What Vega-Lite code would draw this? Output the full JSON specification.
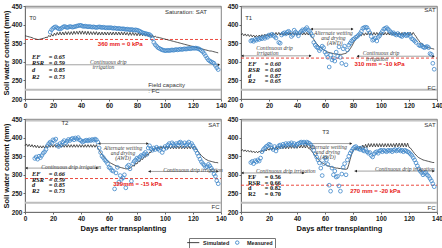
{
"$schema":"https://vega.github.io/schema/vega-lite/v6.json",
"padding":{"left":1,"top":2,"right":1,"bottom":0},
"bounds":"flush",
"columns":2,
"spacing":{"row":20,"column":20},
"datasets":{
"ann":[
{"p":"T0","k":"g","x":0,"x2":140,"y":445},
{"p":"T0","k":"g","x":0,"x2":138,"y":292},
{"p":"T0","k":"f","x":0,"x2":140,"y":225},
{"p":"T0","k":"r","x":0,"x2":140,"y":360},
{"p":"T0","k":"h","x":138.5,"y":292,"t":"triangle-right"},
{"p":"T0","k":"t","x":3,"y":418,"t":"T0"},
{"p":"T0","k":"t","x":100,"y":435,"t":"Saturation: SAT"},
{"p":"T0","k":"t","x":88,"y":238,"t":"Field capacity"},
{"p":"T0","k":"t","x":88,"y":221,"t":": FC"},
{"p":"T0","k":"red","x":52,"y":347,"t":"360 mm = 0 kPa"},
{"p":"T0","k":"i","x":59.5,"y":299,"t":"Continuous drip"},
{"p":"T0","k":"i","x":56,"y":286,"t":"irrigation"},
{"p":"T0","k":"s","x":5,"y":313,"t":"EF"},{"p":"T0","k":"s","x":17,"y":313,"t":"= 0.65"},
{"p":"T0","k":"s","x":5,"y":296,"t":"RSR"},{"p":"T0","k":"s","x":17,"y":296,"t":"= 0.59"},
{"p":"T0","k":"s","x":5,"y":278,"t":"d"},{"p":"T0","k":"s","x":17,"y":278,"t":"= 0.85"},
{"p":"T0","k":"s","x":5,"y":260,"t":"R2"},{"p":"T0","k":"s","x":17,"y":260,"t":"= 0.73"},

{"p":"T1","k":"g","x":0,"x2":140,"y":445},
{"p":"T1","k":"g","x":0,"x2":50,"y":316},
{"p":"T1","k":"g","x":50,"x2":80,"y":388},
{"p":"T1","k":"g","x":83,"x2":138,"y":315},
{"p":"T1","k":"f","x":0,"x2":140,"y":225},
{"p":"T1","k":"r","x":0,"x2":140,"y":310},
{"p":"T1","k":"h","x":1,"y":316,"t":"triangle-left"},
{"p":"T1","k":"h","x":49.5,"y":316,"t":"triangle-right"},
{"p":"T1","k":"h","x":50.5,"y":388,"t":"triangle-left"},
{"p":"T1","k":"h","x":79.5,"y":388,"t":"triangle-right"},
{"p":"T1","k":"h","x":83.5,"y":315,"t":"triangle-left"},
{"p":"T1","k":"h","x":137.5,"y":315,"t":"triangle-right"},
{"p":"T1","k":"t","x":3,"y":418,"t":"T1"},
{"p":"T1","k":"tr","x":139,"y":439,"t":"SAT"},
{"p":"T1","k":"tr","x":139,"y":230,"t":"FC"},
{"p":"T1","k":"red","x":81,"y":294,"t":"310 mm = -10 kPa"},
{"p":"T1","k":"i","x":66,"y":377,"t":"Alternate wetting"},
{"p":"T1","k":"i","x":66,"y":364,"t":"and drying"},
{"p":"T1","k":"i","x":67,"y":351,"t":"(AWD)"},
{"p":"T1","k":"i","x":24,"y":337,"t":"Continuous drip"},
{"p":"T1","k":"i","x":19,"y":323,"t":"irrigation"},
{"p":"T1","k":"i","x":100,"y":325,"t":"Continuous drip"},
{"p":"T1","k":"i","x":97,"y":308,"t":"irrigation"},
{"p":"T1","k":"s","x":5,"y":293,"t":"EF"},{"p":"T1","k":"s","x":17,"y":293,"t":"= 0.60"},
{"p":"T1","k":"s","x":5,"y":278,"t":"RSR"},{"p":"T1","k":"s","x":17,"y":278,"t":"= 0.60"},
{"p":"T1","k":"s","x":5,"y":263,"t":"d"},{"p":"T1","k":"s","x":17,"y":263,"t":"= 0.87"},
{"p":"T1","k":"s","x":5,"y":248,"t":"R2"},{"p":"T1","k":"s","x":17,"y":248,"t":"= 0.65"},

{"p":"T2","k":"g","x":0,"x2":140,"y":445},
{"p":"T2","k":"g","x":0,"x2":52,"y":318},
{"p":"T2","k":"g","x":52,"x2":88,"y":384},
{"p":"T2","k":"g","x":88,"x2":138,"y":309},
{"p":"T2","k":"f","x":0,"x2":140,"y":225},
{"p":"T2","k":"r","x":0,"x2":140,"y":290},
{"p":"T2","k":"h","x":1,"y":318,"t":"triangle-left"},
{"p":"T2","k":"h","x":51.5,"y":318,"t":"triangle-right"},
{"p":"T2","k":"h","x":53,"y":384,"t":"triangle-left"},
{"p":"T2","k":"h","x":87.5,"y":384,"t":"triangle-right"},
{"p":"T2","k":"h","x":89,"y":309,"t":"triangle-left"},
{"p":"T2","k":"h","x":137.5,"y":309,"t":"triangle-right"},
{"p":"T2","k":"t","x":26,"y":440,"t":"T2"},
{"p":"T2","k":"tr","x":139,"y":434,"t":"SAT"},
{"p":"T2","k":"tr","x":139,"y":213,"t":"FC"},
{"p":"T2","k":"red","x":63,"y":275,"t":"329mm = -15 kPa"},
{"p":"T2","k":"i","x":70,"y":371,"t":"Alternate wetting"},
{"p":"T2","k":"i","x":70,"y":358,"t":"and drying"},
{"p":"T2","k":"i","x":70,"y":345,"t":"(AWD)"},
{"p":"T2","k":"i","x":33,"y":322,"t":"Continuous drip irrigation"},
{"p":"T2","k":"i","x":120,"y":314,"t":"Continuous drip irrigation"},
{"p":"T2","k":"s","x":5,"y":302,"t":"EF"},{"p":"T2","k":"s","x":17,"y":302,"t":"= 0.66"},
{"p":"T2","k":"s","x":5,"y":287,"t":"RSR"},{"p":"T2","k":"s","x":17,"y":287,"t":"= 0.59"},
{"p":"T2","k":"s","x":5,"y":272,"t":"d"},{"p":"T2","k":"s","x":17,"y":272,"t":"= 0.85"},
{"p":"T2","k":"s","x":5,"y":257,"t":"R2"},{"p":"T2","k":"s","x":17,"y":257,"t":"= 0.73"},

{"p":"T3","k":"g","x":0,"x2":140,"y":445},
{"p":"T3","k":"g","x":0,"x2":45,"y":305},
{"p":"T3","k":"g","x":45,"x2":79,"y":384},
{"p":"T3","k":"g","x":81,"x2":138,"y":310},
{"p":"T3","k":"f","x":0,"x2":140,"y":225},
{"p":"T3","k":"r","x":0,"x2":140,"y":272},
{"p":"T3","k":"h","x":1,"y":305,"t":"triangle-left"},
{"p":"T3","k":"h","x":44.5,"y":305,"t":"triangle-right"},
{"p":"T3","k":"h","x":46,"y":384,"t":"triangle-left"},
{"p":"T3","k":"h","x":78.5,"y":384,"t":"triangle-right"},
{"p":"T3","k":"h","x":82,"y":310,"t":"triangle-left"},
{"p":"T3","k":"h","x":137.5,"y":310,"t":"triangle-right"},
{"p":"T3","k":"t","x":58,"y":416,"t":"T3"},
{"p":"T3","k":"tr","x":139,"y":433,"t":"SAT"},
{"p":"T3","k":"tr","x":139,"y":212,"t":"FC"},
{"p":"T3","k":"red","x":78,"y":257,"t":"270 mm = -20 kPa"},
{"p":"T3","k":"i","x":62,"y":375,"t":"Alternate wetting"},
{"p":"T3","k":"i","x":62,"y":362,"t":"and drying"},
{"p":"T3","k":"i","x":62,"y":349,"t":"(AWD)"},
{"p":"T3","k":"i","x":32,"y":311,"t":"Continuous drip irrigation"},
{"p":"T3","k":"i","x":117,"y":315,"t":"Continuous drip irrigation"},
{"p":"T3","k":"s","x":5,"y":294,"t":"EF"},{"p":"T3","k":"s","x":17,"y":294,"t":"= 0.56"},
{"p":"T3","k":"s","x":5,"y":279,"t":"RSR"},{"p":"T3","k":"s","x":17,"y":279,"t":"= 0.66"},
{"p":"T3","k":"s","x":5,"y":264,"t":"d"},{"p":"T3","k":"s","x":17,"y":264,"t":"= 0.82"},
{"p":"T3","k":"s","x":5,"y":249,"t":"R2"},{"p":"T3","k":"s","x":17,"y":249,"t":"= 0.70"}
],
"s0":[{"x":0,"y":370},{"x":1,"y":369},{"x":2,"y":368},{"x":3,"y":367},{"x":4,"y":366},{"x":5,"y":365},{"x":6,"y":363},{"x":7,"y":362},{"x":8,"y":361},{"x":9,"y":360},{"x":10,"y":360},{"x":11,"y":361},{"x":12,"y":362},{"x":13,"y":363},{"x":14,"y":364},{"x":15,"y":366},{"x":16,"y":365},{"x":17,"y":371},{"x":18,"y":367},{"x":19,"y":374},{"x":20,"y":369},{"x":21,"y":377},{"x":22,"y":371},{"x":23,"y":379},{"x":24,"y":372},{"x":25,"y":380},{"x":26,"y":372},{"x":27,"y":380},{"x":28,"y":372},{"x":29,"y":381},{"x":30,"y":373},{"x":31,"y":381},{"x":32,"y":373},{"x":33,"y":381},{"x":34,"y":373},{"x":35,"y":382},{"x":36,"y":374},{"x":37,"y":382},{"x":38,"y":374},{"x":39,"y":383},{"x":40,"y":374},{"x":41,"y":383},{"x":42,"y":374},{"x":43,"y":382},{"x":44,"y":373},{"x":45,"y":382},{"x":46,"y":373},{"x":47,"y":381},{"x":48,"y":373},{"x":49,"y":381},{"x":50,"y":373},{"x":51,"y":381},{"x":52,"y":372},{"x":53,"y":380},{"x":54,"y":372},{"x":55,"y":380},{"x":56,"y":372},{"x":57,"y":380},{"x":58,"y":372},{"x":59,"y":380},{"x":60,"y":372},{"x":61,"y":380},{"x":62,"y":372},{"x":63,"y":380},{"x":64,"y":372},{"x":65,"y":380},{"x":66,"y":372},{"x":67,"y":380},{"x":68,"y":372},{"x":69,"y":380},{"x":70,"y":372},{"x":71,"y":380},{"x":72,"y":372},{"x":73,"y":379},{"x":74,"y":371},{"x":75,"y":379},{"x":76,"y":371},{"x":77,"y":379},{"x":78,"y":371},{"x":79,"y":378},{"x":80,"y":370},{"x":81,"y":378},{"x":82,"y":370},{"x":83,"y":377},{"x":84,"y":370},{"x":85,"y":377},{"x":86,"y":369},{"x":87,"y":376},{"x":88,"y":368},{"x":89,"y":374},{"x":90,"y":367},{"x":91,"y":372},{"x":92,"y":366},{"x":93,"y":369},{"x":94,"y":366},{"x":95,"y":366},{"x":96,"y":365},{"x":97,"y":364},{"x":98,"y":363},{"x":99,"y":362},{"x":100,"y":361},{"x":101,"y":360},{"x":102,"y":359},{"x":103,"y":358},{"x":104,"y":357},{"x":105,"y":356},{"x":106,"y":355},{"x":107,"y":354},{"x":108,"y":353},{"x":109,"y":352},{"x":110,"y":351},{"x":111,"y":350},{"x":112,"y":349},{"x":113,"y":348},{"x":114,"y":347},{"x":115,"y":346},{"x":116,"y":345},{"x":117,"y":344},{"x":118,"y":343},{"x":119,"y":342},{"x":120,"y":341},{"x":121,"y":340},{"x":122,"y":339},{"x":123,"y":338},{"x":124,"y":337},{"x":125,"y":336},{"x":126,"y":335},{"x":127,"y":334},{"x":128,"y":333},{"x":129,"y":332},{"x":130,"y":331},{"x":131,"y":330},{"x":132,"y":329},{"x":133,"y":329},{"x":134,"y":328},{"x":135,"y":327},{"x":136,"y":326},{"x":137,"y":325},{"x":138,"y":324}],
"m0":[{"x":18,"y":380},{"x":19,"y":386},{"x":20,"y":390},{"x":21,"y":393},{"x":22,"y":394},{"x":23,"y":391},{"x":24,"y":389},{"x":25,"y":388},{"x":26,"y":390},{"x":27,"y":393},{"x":28,"y":395},{"x":29,"y":394},{"x":30,"y":392},{"x":31,"y":393},{"x":32,"y":395},{"x":33,"y":394},{"x":34,"y":393},{"x":35,"y":394},{"x":36,"y":395},{"x":37,"y":396},{"x":38,"y":397},{"x":39,"y":398},{"x":40,"y":398},{"x":41,"y":396},{"x":42,"y":395},{"x":43,"y":396},{"x":44,"y":395},{"x":45,"y":394},{"x":46,"y":395},{"x":47,"y":394},{"x":48,"y":393},{"x":49,"y":394},{"x":50,"y":393},{"x":51,"y":392},{"x":52,"y":393},{"x":53,"y":394},{"x":54,"y":393},{"x":55,"y":392},{"x":56,"y":393},{"x":57,"y":392},{"x":58,"y":391},{"x":59,"y":392},{"x":60,"y":391},{"x":61,"y":392},{"x":62,"y":391},{"x":63,"y":390},{"x":64,"y":391},{"x":65,"y":390},{"x":66,"y":389},{"x":67,"y":390},{"x":68,"y":389},{"x":69,"y":388},{"x":70,"y":389},{"x":71,"y":388},{"x":72,"y":387},{"x":73,"y":388},{"x":74,"y":387},{"x":75,"y":386},{"x":76,"y":387},{"x":77,"y":386},{"x":78,"y":385},{"x":79,"y":386},{"x":80,"y":385},{"x":81,"y":384},{"x":82,"y":382},{"x":83,"y":380},{"x":84,"y":378},{"x":85,"y":377},{"x":86,"y":376},{"x":87,"y":375},{"x":88,"y":374},{"x":89,"y":373},{"x":90,"y":370},{"x":91,"y":362},{"x":92,"y":352},{"x":93,"y":346},{"x":94,"y":342},{"x":95,"y":338},{"x":96,"y":336},{"x":97,"y":334},{"x":98,"y":332},{"x":99,"y":331},{"x":100,"y":330},{"x":101,"y":330},{"x":102,"y":331},{"x":103,"y":330},{"x":104,"y":331},{"x":105,"y":332},{"x":106,"y":331},{"x":107,"y":332},{"x":108,"y":333},{"x":109,"y":332},{"x":110,"y":333},{"x":111,"y":334},{"x":112,"y":333},{"x":113,"y":334},{"x":114,"y":335},{"x":115,"y":334},{"x":116,"y":335},{"x":117,"y":336},{"x":118,"y":335},{"x":119,"y":336},{"x":120,"y":337},{"x":121,"y":336},{"x":122,"y":337},{"x":123,"y":336},{"x":124,"y":335},{"x":125,"y":333},{"x":126,"y":330},{"x":127,"y":327},{"x":128,"y":322},{"x":129,"y":316},{"x":130,"y":310},{"x":131,"y":305},{"x":132,"y":302},{"x":133,"y":300},{"x":134,"y":298},{"x":135,"y":296},{"x":136,"y":290},{"x":137,"y":284},{"x":138,"y":279}],
"s1":[{"x":0,"y":372},{"x":1,"y":376},{"x":2,"y":370},{"x":3,"y":375},{"x":4,"y":369},{"x":5,"y":374},{"x":6,"y":368},{"x":7,"y":373},{"x":8,"y":367},{"x":9,"y":372},{"x":10,"y":366},{"x":11,"y":371},{"x":12,"y":366},{"x":13,"y":372},{"x":14,"y":367},{"x":15,"y":373},{"x":16,"y":368},{"x":17,"y":374},{"x":18,"y":369},{"x":19,"y":375},{"x":20,"y":370},{"x":21,"y":377},{"x":22,"y":371},{"x":23,"y":378},{"x":24,"y":372},{"x":25,"y":379},{"x":26,"y":372},{"x":27,"y":379},{"x":28,"y":372},{"x":29,"y":379},{"x":30,"y":372},{"x":31,"y":379},{"x":32,"y":372},{"x":33,"y":379},{"x":34,"y":372},{"x":35,"y":379},{"x":36,"y":372},{"x":37,"y":379},{"x":38,"y":372},{"x":39,"y":379},{"x":40,"y":372},{"x":41,"y":379},{"x":42,"y":372},{"x":43,"y":379},{"x":44,"y":372},{"x":45,"y":379},{"x":46,"y":372},{"x":47,"y":379},{"x":48,"y":372},{"x":49,"y":378},{"x":50,"y":370},{"x":51,"y":366},{"x":52,"y":360},{"x":53,"y":354},{"x":54,"y":349},{"x":55,"y":345},{"x":56,"y":341},{"x":57,"y":338},{"x":58,"y":335},{"x":59,"y":332},{"x":60,"y":330},{"x":61,"y":328},{"x":62,"y":326},{"x":63,"y":325},{"x":64,"y":324},{"x":65,"y":323},{"x":66,"y":322},{"x":67,"y":321},{"x":68,"y":321},{"x":69,"y":320},{"x":70,"y":320},{"x":71,"y":320},{"x":72,"y":320},{"x":73,"y":321},{"x":74,"y":322},{"x":75,"y":323},{"x":76,"y":326},{"x":77,"y":330},{"x":78,"y":335},{"x":79,"y":341},{"x":80,"y":348},{"x":81,"y":355},{"x":82,"y":361},{"x":83,"y":366},{"x":84,"y":370},{"x":85,"y":373},{"x":86,"y":370},{"x":87,"y":377},{"x":88,"y":371},{"x":89,"y":378},{"x":90,"y":372},{"x":91,"y":379},{"x":92,"y":372},{"x":93,"y":379},{"x":94,"y":372},{"x":95,"y":379},{"x":96,"y":372},{"x":97,"y":379},{"x":98,"y":372},{"x":99,"y":379},{"x":100,"y":372},{"x":101,"y":379},{"x":102,"y":372},{"x":103,"y":379},{"x":104,"y":372},{"x":105,"y":379},{"x":106,"y":372},{"x":107,"y":379},{"x":108,"y":372},{"x":109,"y":379},{"x":110,"y":372},{"x":111,"y":379},{"x":112,"y":372},{"x":113,"y":379},{"x":114,"y":372},{"x":115,"y":379},{"x":116,"y":372},{"x":117,"y":379},{"x":118,"y":372},{"x":119,"y":379},{"x":120,"y":372},{"x":121,"y":379},{"x":122,"y":372},{"x":123,"y":379},{"x":124,"y":373},{"x":125,"y":368},{"x":126,"y":362},{"x":127,"y":357},{"x":128,"y":352},{"x":129,"y":348},{"x":130,"y":345},{"x":131,"y":343},{"x":132,"y":341},{"x":133,"y":339},{"x":134,"y":338},{"x":135,"y":337},{"x":136,"y":336},{"x":137,"y":335},{"x":138,"y":334}],
"m1":[{"x":7,"y":356},{"x":8,"y":358},{"x":9,"y":355},{"x":10,"y":360},{"x":11,"y":358},{"x":12,"y":362},{"x":13,"y":360},{"x":14,"y":364},{"x":15,"y":362},{"x":16,"y":366},{"x":17,"y":363},{"x":18,"y":368},{"x":19,"y":366},{"x":20,"y":372},{"x":21,"y":370},{"x":22,"y":374},{"x":23,"y":371},{"x":24,"y":368},{"x":25,"y":364},{"x":27,"y":352},{"x":28,"y":350},{"x":29,"y":372},{"x":30,"y":376},{"x":31,"y":378},{"x":32,"y":375},{"x":33,"y":380},{"x":34,"y":382},{"x":35,"y":378},{"x":36,"y":368},{"x":37,"y":372},{"x":38,"y":385},{"x":39,"y":380},{"x":40,"y":376},{"x":41,"y":370},{"x":42,"y":378},{"x":43,"y":382},{"x":44,"y":386},{"x":45,"y":384},{"x":46,"y":388},{"x":47,"y":392},{"x":48,"y":386},{"x":49,"y":382},{"x":50,"y":376},{"x":51,"y":370},{"x":52,"y":352},{"x":53,"y":345},{"x":54,"y":340},{"x":55,"y":337},{"x":56,"y":330},{"x":57,"y":335},{"x":58,"y":342},{"x":59,"y":338},{"x":60,"y":326},{"x":61,"y":320},{"x":62,"y":312},{"x":63,"y":286},{"x":64,"y":318},{"x":65,"y":305},{"x":66,"y":310},{"x":67,"y":302},{"x":68,"y":326},{"x":69,"y":315},{"x":70,"y":340},{"x":71,"y":312},{"x":72,"y":296},{"x":73,"y":335},{"x":74,"y":342},{"x":75,"y":292},{"x":76,"y":332},{"x":77,"y":345},{"x":78,"y":350},{"x":79,"y":356},{"x":80,"y":360},{"x":81,"y":362},{"x":82,"y":366},{"x":83,"y":368},{"x":84,"y":372},{"x":85,"y":376},{"x":86,"y":382},{"x":87,"y":390},{"x":88,"y":392},{"x":89,"y":393},{"x":90,"y":392},{"x":91,"y":385},{"x":92,"y":378},{"x":93,"y":368},{"x":94,"y":358},{"x":95,"y":360},{"x":96,"y":364},{"x":97,"y":356},{"x":98,"y":366},{"x":99,"y":370},{"x":100,"y":376},{"x":101,"y":382},{"x":102,"y":388},{"x":103,"y":390},{"x":104,"y":392},{"x":105,"y":388},{"x":106,"y":384},{"x":107,"y":380},{"x":108,"y":376},{"x":109,"y":378},{"x":110,"y":374},{"x":111,"y":372},{"x":112,"y":376},{"x":113,"y":372},{"x":114,"y":370},{"x":115,"y":368},{"x":116,"y":372},{"x":117,"y":374},{"x":118,"y":370},{"x":119,"y":372},{"x":120,"y":374},{"x":121,"y":368},{"x":122,"y":362},{"x":123,"y":360},{"x":124,"y":356},{"x":125,"y":352},{"x":127,"y":345},{"x":128,"y":343},{"x":129,"y":345},{"x":130,"y":340},{"x":131,"y":338},{"x":132,"y":340},{"x":133,"y":341},{"x":134,"y":338},{"x":135,"y":322},{"x":136,"y":320},{"x":137,"y":296},{"x":138,"y":280}],
"s2":[{"x":0,"y":378},{"x":1,"y":383},{"x":2,"y":376},{"x":3,"y":382},{"x":4,"y":375},{"x":5,"y":381},{"x":6,"y":374},{"x":7,"y":380},{"x":8,"y":373},{"x":9,"y":379},{"x":10,"y":372},{"x":11,"y":378},{"x":12,"y":372},{"x":13,"y":378},{"x":14,"y":372},{"x":15,"y":379},{"x":16,"y":373},{"x":17,"y":380},{"x":18,"y":374},{"x":19,"y":381},{"x":20,"y":374},{"x":21,"y":381},{"x":22,"y":374},{"x":23,"y":381},{"x":24,"y":374},{"x":25,"y":381},{"x":26,"y":374},{"x":27,"y":381},{"x":28,"y":374},{"x":29,"y":381},{"x":30,"y":374},{"x":31,"y":381},{"x":32,"y":374},{"x":33,"y":381},{"x":34,"y":374},{"x":35,"y":381},{"x":36,"y":374},{"x":37,"y":381},{"x":38,"y":374},{"x":39,"y":381},{"x":40,"y":374},{"x":41,"y":381},{"x":42,"y":374},{"x":43,"y":381},{"x":44,"y":374},{"x":45,"y":381},{"x":46,"y":374},{"x":47,"y":381},{"x":48,"y":374},{"x":49,"y":381},{"x":50,"y":374},{"x":51,"y":381},{"x":52,"y":372},{"x":53,"y":366},{"x":54,"y":360},{"x":55,"y":355},{"x":56,"y":350},{"x":57,"y":346},{"x":58,"y":342},{"x":59,"y":338},{"x":60,"y":335},{"x":61,"y":332},{"x":62,"y":330},{"x":63,"y":328},{"x":64,"y":326},{"x":65,"y":324},{"x":66,"y":322},{"x":67,"y":321},{"x":68,"y":320},{"x":69,"y":319},{"x":70,"y":318},{"x":71,"y":317},{"x":72,"y":316},{"x":73,"y":316},{"x":74,"y":316},{"x":75,"y":318},{"x":76,"y":320},{"x":77,"y":326},{"x":78,"y":323},{"x":79,"y":331},{"x":80,"y":329},{"x":81,"y":337},{"x":82,"y":335},{"x":83,"y":343},{"x":84,"y":341},{"x":85,"y":349},{"x":86,"y":347},{"x":87,"y":355},{"x":88,"y":353},{"x":89,"y":361},{"x":90,"y":360},{"x":91,"y":368},{"x":92,"y":365},{"x":93,"y":372},{"x":94,"y":368},{"x":95,"y":375},{"x":96,"y":369},{"x":97,"y":376},{"x":98,"y":370},{"x":99,"y":377},{"x":100,"y":370},{"x":101,"y":377},{"x":102,"y":370},{"x":103,"y":377},{"x":104,"y":370},{"x":105,"y":377},{"x":106,"y":370},{"x":107,"y":377},{"x":108,"y":370},{"x":109,"y":377},{"x":110,"y":370},{"x":111,"y":377},{"x":112,"y":370},{"x":113,"y":377},{"x":114,"y":370},{"x":115,"y":377},{"x":116,"y":370},{"x":117,"y":377},{"x":118,"y":370},{"x":119,"y":377},{"x":120,"y":370},{"x":121,"y":377},{"x":122,"y":371},{"x":123,"y":366},{"x":124,"y":361},{"x":125,"y":356},{"x":126,"y":352},{"x":127,"y":348},{"x":128,"y":345},{"x":129,"y":342},{"x":130,"y":340},{"x":131,"y":338},{"x":132,"y":337},{"x":133,"y":336},{"x":134,"y":335},{"x":135,"y":334},{"x":136,"y":333},{"x":137,"y":333},{"x":138,"y":332}],
"m2":[{"x":7,"y":344},{"x":8,"y":348},{"x":9,"y":342},{"x":10,"y":350},{"x":11,"y":346},{"x":12,"y":352},{"x":13,"y":358},{"x":14,"y":362},{"x":15,"y":368},{"x":16,"y":378},{"x":17,"y":384},{"x":18,"y":388},{"x":19,"y":385},{"x":20,"y":394},{"x":21,"y":392},{"x":22,"y":396},{"x":23,"y":380},{"x":24,"y":376},{"x":25,"y":384},{"x":26,"y":380},{"x":27,"y":388},{"x":28,"y":392},{"x":29,"y":385},{"x":30,"y":390},{"x":31,"y":395},{"x":32,"y":392},{"x":33,"y":396},{"x":34,"y":398},{"x":35,"y":394},{"x":36,"y":399},{"x":37,"y":396},{"x":38,"y":400},{"x":39,"y":394},{"x":40,"y":392},{"x":41,"y":388},{"x":42,"y":390},{"x":43,"y":392},{"x":44,"y":393},{"x":45,"y":391},{"x":46,"y":394},{"x":47,"y":392},{"x":48,"y":395},{"x":49,"y":393},{"x":50,"y":396},{"x":51,"y":394},{"x":52,"y":388},{"x":53,"y":372},{"x":54,"y":360},{"x":55,"y":350},{"x":56,"y":346},{"x":57,"y":340},{"x":58,"y":336},{"x":59,"y":330},{"x":60,"y":320},{"x":61,"y":318},{"x":62,"y":312},{"x":63,"y":310},{"x":64,"y":262},{"x":65,"y":305},{"x":66,"y":320},{"x":67,"y":280},{"x":68,"y":298},{"x":69,"y":288},{"x":70,"y":292},{"x":71,"y":300},{"x":72,"y":265},{"x":73,"y":322},{"x":74,"y":326},{"x":75,"y":316},{"x":76,"y":283},{"x":77,"y":330},{"x":78,"y":336},{"x":79,"y":340},{"x":80,"y":345},{"x":81,"y":342},{"x":82,"y":348},{"x":83,"y":352},{"x":84,"y":350},{"x":85,"y":356},{"x":86,"y":360},{"x":87,"y":355},{"x":88,"y":372},{"x":89,"y":378},{"x":90,"y":370},{"x":91,"y":366},{"x":92,"y":372},{"x":93,"y":368},{"x":94,"y":374},{"x":95,"y":370},{"x":96,"y":366},{"x":97,"y":372},{"x":98,"y":360},{"x":99,"y":368},{"x":100,"y":376},{"x":101,"y":372},{"x":102,"y":380},{"x":103,"y":384},{"x":104,"y":378},{"x":105,"y":386},{"x":106,"y":382},{"x":107,"y":378},{"x":108,"y":384},{"x":109,"y":380},{"x":110,"y":386},{"x":111,"y":388},{"x":112,"y":384},{"x":113,"y":378},{"x":114,"y":386},{"x":115,"y":380},{"x":116,"y":384},{"x":117,"y":388},{"x":118,"y":380},{"x":119,"y":384},{"x":120,"y":378},{"x":121,"y":372},{"x":122,"y":366},{"x":123,"y":358},{"x":124,"y":350},{"x":125,"y":342},{"x":126,"y":335},{"x":127,"y":330},{"x":128,"y":326},{"x":129,"y":320},{"x":130,"y":322},{"x":131,"y":328},{"x":132,"y":324},{"x":133,"y":318},{"x":134,"y":312},{"x":135,"y":302},{"x":136,"y":296},{"x":137,"y":284},{"x":138,"y":276}],
"s3":[{"x":0,"y":364},{"x":1,"y":368},{"x":2,"y":363},{"x":3,"y":367},{"x":4,"y":362},{"x":5,"y":366},{"x":6,"y":361},{"x":7,"y":365},{"x":8,"y":360},{"x":9,"y":364},{"x":10,"y":359},{"x":11,"y":363},{"x":12,"y":359},{"x":13,"y":364},{"x":14,"y":360},{"x":15,"y":366},{"x":16,"y":362},{"x":17,"y":368},{"x":18,"y":364},{"x":19,"y":371},{"x":20,"y":366},{"x":21,"y":373},{"x":22,"y":367},{"x":23,"y":375},{"x":24,"y":368},{"x":25,"y":376},{"x":26,"y":369},{"x":27,"y":377},{"x":28,"y":370},{"x":29,"y":378},{"x":30,"y":370},{"x":31,"y":378},{"x":32,"y":370},{"x":33,"y":378},{"x":34,"y":370},{"x":35,"y":379},{"x":36,"y":371},{"x":37,"y":379},{"x":38,"y":371},{"x":39,"y":379},{"x":40,"y":371},{"x":41,"y":380},{"x":42,"y":372},{"x":43,"y":380},{"x":44,"y":372},{"x":45,"y":380},{"x":46,"y":372},{"x":47,"y":380},{"x":48,"y":372},{"x":49,"y":370},{"x":50,"y":366},{"x":51,"y":361},{"x":52,"y":356},{"x":53,"y":351},{"x":54,"y":346},{"x":55,"y":342},{"x":56,"y":338},{"x":57,"y":335},{"x":58,"y":332},{"x":59,"y":330},{"x":60,"y":328},{"x":61,"y":326},{"x":62,"y":324},{"x":63,"y":323},{"x":64,"y":322},{"x":65,"y":321},{"x":66,"y":320},{"x":67,"y":319},{"x":68,"y":318},{"x":69,"y":318},{"x":70,"y":317},{"x":71,"y":317},{"x":72,"y":316},{"x":73,"y":316},{"x":74,"y":315},{"x":75,"y":315},{"x":76,"y":316},{"x":77,"y":328},{"x":78,"y":342},{"x":79,"y":355},{"x":80,"y":364},{"x":81,"y":370},{"x":82,"y":366},{"x":83,"y":374},{"x":84,"y":368},{"x":85,"y":377},{"x":86,"y":370},{"x":87,"y":380},{"x":88,"y":372},{"x":89,"y":382},{"x":90,"y":373},{"x":91,"y":384},{"x":92,"y":375},{"x":93,"y":384},{"x":94,"y":375},{"x":95,"y":384},{"x":96,"y":375},{"x":97,"y":384},{"x":98,"y":375},{"x":99,"y":384},{"x":100,"y":375},{"x":101,"y":384},{"x":102,"y":375},{"x":103,"y":384},{"x":104,"y":375},{"x":105,"y":384},{"x":106,"y":375},{"x":107,"y":384},{"x":108,"y":375},{"x":109,"y":384},{"x":110,"y":375},{"x":111,"y":385},{"x":112,"y":375},{"x":113,"y":385},{"x":114,"y":375},{"x":115,"y":385},{"x":116,"y":375},{"x":117,"y":385},{"x":118,"y":375},{"x":119,"y":385},{"x":120,"y":374},{"x":121,"y":372},{"x":122,"y":367},{"x":123,"y":362},{"x":124,"y":357},{"x":125,"y":353},{"x":126,"y":349},{"x":127,"y":346},{"x":128,"y":344},{"x":129,"y":342},{"x":130,"y":340},{"x":131,"y":339},{"x":132,"y":338},{"x":133,"y":337},{"x":134,"y":336},{"x":135,"y":335},{"x":136,"y":334},{"x":137,"y":333},{"x":138,"y":333}],
"m3":[{"x":7,"y":333},{"x":8,"y":336},{"x":9,"y":330},{"x":10,"y":338},{"x":11,"y":335},{"x":12,"y":340},{"x":13,"y":337},{"x":14,"y":345},{"x":15,"y":362},{"x":16,"y":368},{"x":17,"y":372},{"x":18,"y":376},{"x":19,"y":378},{"x":20,"y":382},{"x":21,"y":380},{"x":22,"y":372},{"x":23,"y":368},{"x":24,"y":376},{"x":25,"y":364},{"x":26,"y":372},{"x":27,"y":378},{"x":28,"y":380},{"x":29,"y":376},{"x":30,"y":382},{"x":31,"y":378},{"x":32,"y":384},{"x":33,"y":380},{"x":34,"y":384},{"x":35,"y":382},{"x":36,"y":386},{"x":37,"y":380},{"x":38,"y":384},{"x":39,"y":378},{"x":40,"y":382},{"x":41,"y":384},{"x":42,"y":386},{"x":43,"y":388},{"x":44,"y":386},{"x":45,"y":388},{"x":46,"y":384},{"x":47,"y":388},{"x":48,"y":386},{"x":49,"y":384},{"x":50,"y":380},{"x":51,"y":374},{"x":52,"y":366},{"x":53,"y":356},{"x":54,"y":348},{"x":55,"y":340},{"x":56,"y":332},{"x":57,"y":318},{"x":58,"y":298},{"x":59,"y":330},{"x":60,"y":345},{"x":61,"y":340},{"x":62,"y":328},{"x":63,"y":272},{"x":64,"y":256},{"x":65,"y":318},{"x":66,"y":300},{"x":67,"y":310},{"x":68,"y":294},{"x":69,"y":296},{"x":70,"y":270},{"x":71,"y":256},{"x":72,"y":302},{"x":73,"y":320},{"x":74,"y":330},{"x":75,"y":300},{"x":76,"y":340},{"x":77,"y":350},{"x":78,"y":358},{"x":79,"y":364},{"x":80,"y":370},{"x":81,"y":374},{"x":82,"y":376},{"x":83,"y":372},{"x":84,"y":370},{"x":85,"y":368},{"x":86,"y":372},{"x":87,"y":366},{"x":88,"y":364},{"x":89,"y":368},{"x":90,"y":362},{"x":91,"y":358},{"x":92,"y":360},{"x":93,"y":352},{"x":94,"y":348},{"x":95,"y":356},{"x":96,"y":360},{"x":97,"y":362},{"x":98,"y":358},{"x":99,"y":364},{"x":100,"y":366},{"x":101,"y":362},{"x":102,"y":366},{"x":103,"y":364},{"x":104,"y":362},{"x":105,"y":366},{"x":106,"y":364},{"x":107,"y":366},{"x":108,"y":362},{"x":109,"y":366},{"x":110,"y":368},{"x":111,"y":364},{"x":112,"y":366},{"x":113,"y":368},{"x":114,"y":364},{"x":115,"y":366},{"x":116,"y":362},{"x":117,"y":366},{"x":118,"y":364},{"x":119,"y":362},{"x":120,"y":360},{"x":121,"y":356},{"x":122,"y":352},{"x":123,"y":346},{"x":124,"y":340},{"x":125,"y":332},{"x":126,"y":324},{"x":127,"y":316},{"x":128,"y":310},{"x":129,"y":306},{"x":130,"y":300},{"x":131,"y":304},{"x":132,"y":306},{"x":133,"y":300},{"x":134,"y":296},{"x":135,"y":290},{"x":136,"y":284},{"x":137,"y":276},{"x":138,"y":268}]
},
"concat":[
{"width":196,"height":93,
"encoding":{"x":{"field":"x","type":"quantitative","scale":{"domain":[0,140],"nice":false},"axis":{"values":[0,20,40,60,80,100,120,140],"title":null}},
"y":{"field":"y","type":"quantitative","scale":{"domain":[200,450],"nice":false},"axis":{"values":[200,250,300,350,400,450],"title":"Soil water content (mm)"}}},
"layer":[
{"data":{"name":"ann"},"transform":[{"filter":"datum.p=='T0'&&datum.k=='f'"}],"mark":{"type":"rule","color":"#bdbdbd","strokeWidth":2},"encoding":{"x2":{"field":"x2"}}},
{"data":{"name":"ann"},"transform":[{"filter":"datum.p=='T0'&&datum.k=='g'"}],"mark":{"type":"rule","color":"#8c8c8c","strokeWidth":0.8},"encoding":{"x2":{"field":"x2"}}},
{"data":{"name":"ann"},"transform":[{"filter":"datum.p=='T0'&&datum.k=='r'"}],"mark":{"type":"rule","color":"#e8352a","strokeWidth":0.9,"strokeDash":[3,2]},"encoding":{"x2":{"field":"x2"}}},
{"data":{"name":"ann"},"transform":[{"filter":"datum.p=='T0'&&datum.k=='h'"}],"mark":{"type":"point","filled":true,"color":"#222","size":8,"opacity":1},"encoding":{"shape":{"field":"t","type":"nominal","scale":null}}},
{"data":{"name":"s0"},"mark":{"type":"line","strokeWidth":0.8},"encoding":{"color":{"datum":"Simulated","type":"nominal","scale":{"domain":["Simulated","Measured"],"range":["#2b2b2b","#3f87c9"]},"legend":{"orient":"none","legendX":164,"legendY":232,"direction":"horizontal","title":null,"strokeColor":"#777","fillColor":"#fff","padding":1.5,"labelFont":"Liberation Sans","labelFontSize":5.5,"labelFontWeight":"bold","labelColor":"#222","symbolStrokeWidth":0.9,"columnPadding":4,"labelOffset":7,"symbolSize":12,"symbolFillColor":"transparent","encode":{"symbols":{"update":{"shape":{"signal":"datum.value=='Simulated'?'M-3.5,0H3.5':'circle'"},"fill":{"value":"transparent"}}}}}}}},
{"data":{"name":"m0"},"mark":{"type":"point","filled":false,"size":14,"strokeWidth":0.8,"opacity":1},"encoding":{"color":{"datum":"Measured","type":"nominal","scale":{"domain":["Simulated","Measured"],"range":["#2b2b2b","#3f87c9"]},"legend":{"orient":"none","legendX":164,"legendY":232,"direction":"horizontal","title":null,"strokeColor":"#777","fillColor":"#fff","padding":1.5,"labelFont":"Liberation Sans","labelFontSize":5.5,"labelFontWeight":"bold","labelColor":"#222","symbolStrokeWidth":0.9,"columnPadding":4,"labelOffset":7,"symbolSize":12,"symbolFillColor":"transparent","encode":{"symbols":{"update":{"shape":{"signal":"datum.value=='Simulated'?'M-3.5,0H3.5':'circle'"},"fill":{"value":"transparent"}}}}}}}},
{"data":{"name":"ann"},"transform":[{"filter":"datum.p=='T0'&&datum.k=='t'"}],"mark":{"type":"text","align":"left","baseline":"middle","font":"Liberation Sans","fontSize":6,"color":"#333"},"encoding":{"text":{"field":"t"}}},
{"data":{"name":"ann"},"transform":[{"filter":"datum.p=='T0'&&datum.k=='tr'"}],"mark":{"type":"text","align":"right","baseline":"middle","font":"Liberation Sans","fontSize":6,"color":"#333"},"encoding":{"text":{"field":"t"}}},
{"data":{"name":"ann"},"transform":[{"filter":"datum.p=='T0'&&datum.k=='red'"}],"mark":{"type":"text","align":"left","baseline":"middle","font":"Liberation Sans","fontSize":6,"fontWeight":"bold","color":"#e8211a"},"encoding":{"text":{"field":"t"}}},
{"data":{"name":"ann"},"transform":[{"filter":"datum.p=='T0'&&datum.k=='i'"}],"mark":{"type":"text","align":"center","baseline":"middle","font":"Liberation Serif","fontSize":5.6,"fontStyle":"italic","color":"#444"},"encoding":{"text":{"field":"t"}}},
{"data":{"name":"ann"},"transform":[{"filter":"datum.p=='T0'&&datum.k=='s'"}],"mark":{"type":"text","align":"left","baseline":"middle","font":"Liberation Serif","fontSize":6.3,"fontStyle":"italic","fontWeight":"bold","color":"#111"},"encoding":{"text":{"field":"t"}}}
]},
{"width":196,"height":93,
"encoding":{"x":{"field":"x","type":"quantitative","scale":{"domain":[0,140],"nice":false},"axis":{"values":[0,20,40,60,80,100,120,140],"title":null}},
"y":{"field":"y","type":"quantitative","scale":{"domain":[200,450],"nice":false},"axis":{"values":[200,250,300,350,400,450],"title":null}}},
"layer":[
{"data":{"name":"ann"},"transform":[{"filter":"datum.p=='T1'&&datum.k=='f'"}],"mark":{"type":"rule","color":"#bdbdbd","strokeWidth":2},"encoding":{"x2":{"field":"x2"}}},
{"data":{"name":"ann"},"transform":[{"filter":"datum.p=='T1'&&datum.k=='g'"}],"mark":{"type":"rule","color":"#8c8c8c","strokeWidth":0.8},"encoding":{"x2":{"field":"x2"}}},
{"data":{"name":"ann"},"transform":[{"filter":"datum.p=='T1'&&datum.k=='r'"}],"mark":{"type":"rule","color":"#e8352a","strokeWidth":0.9,"strokeDash":[3,2]},"encoding":{"x2":{"field":"x2"}}},
{"data":{"name":"ann"},"transform":[{"filter":"datum.p=='T1'&&datum.k=='h'"}],"mark":{"type":"point","filled":true,"color":"#222","size":8,"opacity":1},"encoding":{"shape":{"field":"t","type":"nominal","scale":null}}},
{"data":{"name":"s1"},"mark":{"type":"line","strokeWidth":0.8},"encoding":{"color":{"datum":"Simulated","type":"nominal","scale":{"domain":["Simulated","Measured"],"range":["#2b2b2b","#3f87c9"]}}}},
{"data":{"name":"m1"},"mark":{"type":"point","filled":false,"size":14,"strokeWidth":0.8,"opacity":1},"encoding":{"color":{"datum":"Measured","type":"nominal","scale":{"domain":["Simulated","Measured"],"range":["#2b2b2b","#3f87c9"]}}}},
{"data":{"name":"ann"},"transform":[{"filter":"datum.p=='T1'&&datum.k=='t'"}],"mark":{"type":"text","align":"left","baseline":"middle","font":"Liberation Sans","fontSize":6,"color":"#333"},"encoding":{"text":{"field":"t"}}},
{"data":{"name":"ann"},"transform":[{"filter":"datum.p=='T1'&&datum.k=='tr'"}],"mark":{"type":"text","align":"right","baseline":"middle","font":"Liberation Sans","fontSize":6,"color":"#333"},"encoding":{"text":{"field":"t"}}},
{"data":{"name":"ann"},"transform":[{"filter":"datum.p=='T1'&&datum.k=='red'"}],"mark":{"type":"text","align":"left","baseline":"middle","font":"Liberation Sans","fontSize":6,"fontWeight":"bold","color":"#e8211a"},"encoding":{"text":{"field":"t"}}},
{"data":{"name":"ann"},"transform":[{"filter":"datum.p=='T1'&&datum.k=='i'"}],"mark":{"type":"text","align":"center","baseline":"middle","font":"Liberation Serif","fontSize":5.6,"fontStyle":"italic","color":"#444"},"encoding":{"text":{"field":"t"}}},
{"data":{"name":"ann"},"transform":[{"filter":"datum.p=='T1'&&datum.k=='s'"}],"mark":{"type":"text","align":"left","baseline":"middle","font":"Liberation Serif","fontSize":6.3,"fontStyle":"italic","fontWeight":"bold","color":"#111"},"encoding":{"text":{"field":"t"}}}
]},
{"width":196,"height":93,
"encoding":{"x":{"field":"x","type":"quantitative","scale":{"domain":[0,140],"nice":false},"axis":{"values":[0,20,40,60,80,100,120,140],"title":"Days after transplanting"}},
"y":{"field":"y","type":"quantitative","scale":{"domain":[200,450],"nice":false},"axis":{"values":[200,250,300,350,400,450],"title":"Soil water content (mm)"}}},
"layer":[
{"data":{"name":"ann"},"transform":[{"filter":"datum.p=='T2'&&datum.k=='f'"}],"mark":{"type":"rule","color":"#bdbdbd","strokeWidth":2},"encoding":{"x2":{"field":"x2"}}},
{"data":{"name":"ann"},"transform":[{"filter":"datum.p=='T2'&&datum.k=='g'"}],"mark":{"type":"rule","color":"#8c8c8c","strokeWidth":0.8},"encoding":{"x2":{"field":"x2"}}},
{"data":{"name":"ann"},"transform":[{"filter":"datum.p=='T2'&&datum.k=='r'"}],"mark":{"type":"rule","color":"#e8352a","strokeWidth":0.9,"strokeDash":[3,2]},"encoding":{"x2":{"field":"x2"}}},
{"data":{"name":"ann"},"transform":[{"filter":"datum.p=='T2'&&datum.k=='h'"}],"mark":{"type":"point","filled":true,"color":"#222","size":8,"opacity":1},"encoding":{"shape":{"field":"t","type":"nominal","scale":null}}},
{"data":{"name":"s2"},"mark":{"type":"line","strokeWidth":0.8},"encoding":{"color":{"datum":"Simulated","type":"nominal","scale":{"domain":["Simulated","Measured"],"range":["#2b2b2b","#3f87c9"]}}}},
{"data":{"name":"m2"},"mark":{"type":"point","filled":false,"size":14,"strokeWidth":0.8,"opacity":1},"encoding":{"color":{"datum":"Measured","type":"nominal","scale":{"domain":["Simulated","Measured"],"range":["#2b2b2b","#3f87c9"]}}}},
{"data":{"name":"ann"},"transform":[{"filter":"datum.p=='T2'&&datum.k=='t'"}],"mark":{"type":"text","align":"left","baseline":"middle","font":"Liberation Sans","fontSize":6,"color":"#333"},"encoding":{"text":{"field":"t"}}},
{"data":{"name":"ann"},"transform":[{"filter":"datum.p=='T2'&&datum.k=='tr'"}],"mark":{"type":"text","align":"right","baseline":"middle","font":"Liberation Sans","fontSize":6,"color":"#333"},"encoding":{"text":{"field":"t"}}},
{"data":{"name":"ann"},"transform":[{"filter":"datum.p=='T2'&&datum.k=='red'"}],"mark":{"type":"text","align":"left","baseline":"middle","font":"Liberation Sans","fontSize":6,"fontWeight":"bold","color":"#e8211a"},"encoding":{"text":{"field":"t"}}},
{"data":{"name":"ann"},"transform":[{"filter":"datum.p=='T2'&&datum.k=='i'"}],"mark":{"type":"text","align":"center","baseline":"middle","font":"Liberation Serif","fontSize":5.6,"fontStyle":"italic","color":"#444"},"encoding":{"text":{"field":"t"}}},
{"data":{"name":"ann"},"transform":[{"filter":"datum.p=='T2'&&datum.k=='s'"}],"mark":{"type":"text","align":"left","baseline":"middle","font":"Liberation Serif","fontSize":6.3,"fontStyle":"italic","fontWeight":"bold","color":"#111"},"encoding":{"text":{"field":"t"}}}
]},
{"width":196,"height":93,
"encoding":{"x":{"field":"x","type":"quantitative","scale":{"domain":[0,140],"nice":false},"axis":{"values":[0,20,40,60,80,100,120,140],"title":"Days after transplanting"}},
"y":{"field":"y","type":"quantitative","scale":{"domain":[200,450],"nice":false},"axis":{"values":[200,250,300,350,400,450],"title":null}}},
"layer":[
{"data":{"name":"ann"},"transform":[{"filter":"datum.p=='T3'&&datum.k=='f'"}],"mark":{"type":"rule","color":"#bdbdbd","strokeWidth":2},"encoding":{"x2":{"field":"x2"}}},
{"data":{"name":"ann"},"transform":[{"filter":"datum.p=='T3'&&datum.k=='g'"}],"mark":{"type":"rule","color":"#8c8c8c","strokeWidth":0.8},"encoding":{"x2":{"field":"x2"}}},
{"data":{"name":"ann"},"transform":[{"filter":"datum.p=='T3'&&datum.k=='r'"}],"mark":{"type":"rule","color":"#e8352a","strokeWidth":0.9,"strokeDash":[3,2]},"encoding":{"x2":{"field":"x2"}}},
{"data":{"name":"ann"},"transform":[{"filter":"datum.p=='T3'&&datum.k=='h'"}],"mark":{"type":"point","filled":true,"color":"#222","size":8,"opacity":1},"encoding":{"shape":{"field":"t","type":"nominal","scale":null}}},
{"data":{"name":"s3"},"mark":{"type":"line","strokeWidth":0.8},"encoding":{"color":{"datum":"Simulated","type":"nominal","scale":{"domain":["Simulated","Measured"],"range":["#2b2b2b","#3f87c9"]}}}},
{"data":{"name":"m3"},"mark":{"type":"point","filled":false,"size":14,"strokeWidth":0.8,"opacity":1},"encoding":{"color":{"datum":"Measured","type":"nominal","scale":{"domain":["Simulated","Measured"],"range":["#2b2b2b","#3f87c9"]}}}},
{"data":{"name":"ann"},"transform":[{"filter":"datum.p=='T3'&&datum.k=='t'"}],"mark":{"type":"text","align":"left","baseline":"middle","font":"Liberation Sans","fontSize":6,"color":"#333"},"encoding":{"text":{"field":"t"}}},
{"data":{"name":"ann"},"transform":[{"filter":"datum.p=='T3'&&datum.k=='tr'"}],"mark":{"type":"text","align":"right","baseline":"middle","font":"Liberation Sans","fontSize":6,"color":"#333"},"encoding":{"text":{"field":"t"}}},
{"data":{"name":"ann"},"transform":[{"filter":"datum.p=='T3'&&datum.k=='red'"}],"mark":{"type":"text","align":"left","baseline":"middle","font":"Liberation Sans","fontSize":6,"fontWeight":"bold","color":"#e8211a"},"encoding":{"text":{"field":"t"}}},
{"data":{"name":"ann"},"transform":[{"filter":"datum.p=='T3'&&datum.k=='i'"}],"mark":{"type":"text","align":"center","baseline":"middle","font":"Liberation Serif","fontSize":5.6,"fontStyle":"italic","color":"#444"},"encoding":{"text":{"field":"t"}}},
{"data":{"name":"ann"},"transform":[{"filter":"datum.p=='T3'&&datum.k=='s'"}],"mark":{"type":"text","align":"left","baseline":"middle","font":"Liberation Serif","fontSize":6.3,"fontWeight":"bold","color":"#111"},"encoding":{"text":{"field":"t"}}}
]}
],
"config":{
"font":"Liberation Sans",
"view":{"stroke":"#666","strokeWidth":0.8},
"axis":{"grid":false,"labelFont":"Liberation Sans","labelFontSize":6.5,"labelFontWeight":"bold","labelColor":"#222","titleFont":"Liberation Sans","titleFontSize":7.5,"titleFontWeight":"bold","titleColor":"#111","tickSize":2,"tickColor":"#666","domainColor":"#666","domainWidth":0.8,"labelPadding":1,"titlePadding":1,"labelFlush":false,"labelOverlap":false},
"axisX":{"titlePadding":3},
"legend":{"orient":"none","direction":"horizontal"}
}
}
